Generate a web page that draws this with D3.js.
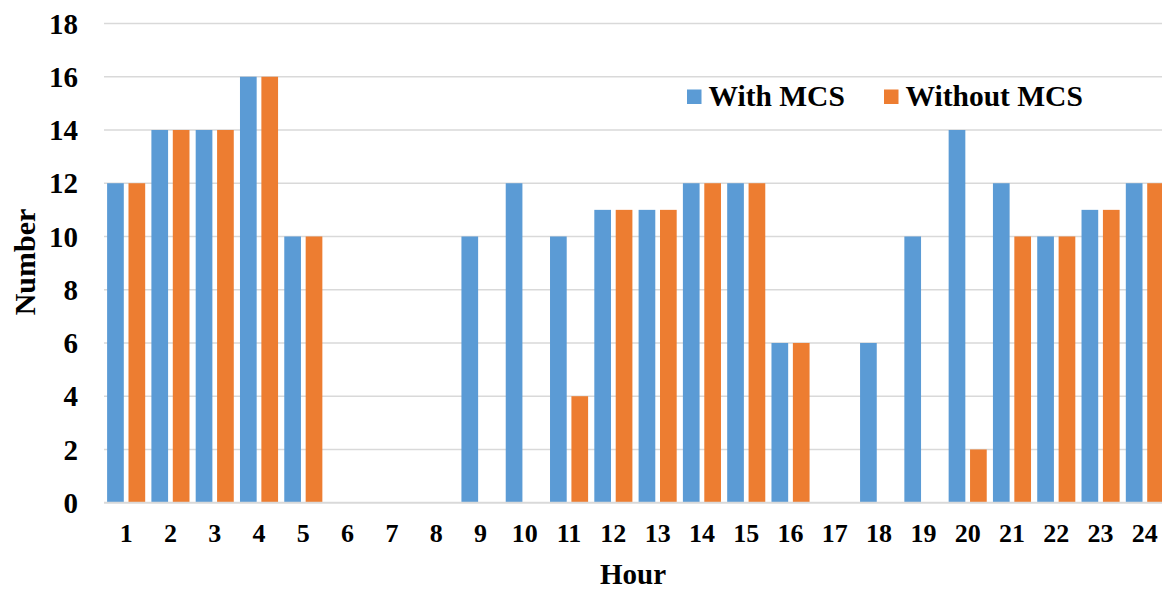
<!DOCTYPE html>
<html><head><meta charset="utf-8">
<script src="https://cdn.jsdelivr.net/npm/d3@7"></script>
<style>body{margin:0;background:#fff;} svg{display:block;} text{font-family:"Liberation Serif","Times New Roman",serif;font-weight:bold;fill:#000;}</style>
</head><body>
<svg id="chart" width="1162" height="590"></svg>
<script>
const hours = ["1","2","3","4","5","6","7","8","9","10","11","12","13","14","15","16","17","18","19","20","21","22","23","24"];
const withMCS = [12,14,14,16,10,0,0,0,10,12,10,11,11,12,12,6,0,6,10,14,12,10,11,12];
const withoutMCS = [12,14,14,16,10,0,0,0,0,0,4,11,11,12,12,6,0,0,0,2,10,10,11,12];
const seriesNames = ["With MCS","Without MCS"];
const yTicks = [0,2,4,6,8,10,12,14,16,18];
const colors = ["#5B9BD5","#ED7D31"];

const svg = d3.select("#chart");
const pLeft = 104, pRight = 1167, pTop = 23.5, pBottom = 502.7;
const x0 = d3.scaleBand().domain(hours).range([pLeft, pRight]);
const xs = d3.scaleBand().domain(seriesNames).range([0, x0.bandwidth()]).paddingInner(0.22).paddingOuter(0.145);
const y = d3.scaleLinear().domain([0,18]).range([pBottom, pTop]);

// gridlines
svg.append("g").selectAll("line").data(yTicks.filter(d=>d>0)).join("line")
  .attr("x1", pLeft).attr("x2", 1162).attr("y1", d=>y(d)).attr("y2", d=>y(d))
  .attr("stroke", "#d9d9d9").attr("stroke-width", 1.5);

const data = [withMCS, withoutMCS];
data.forEach((vals, si) => {
  svg.append("g").selectAll("rect").data(vals).join("rect")
    .attr("x", (d,i) => x0(hours[i]) + xs(seriesNames[si]))
    .attr("width", xs.bandwidth())
    .attr("y", d => y(d))
    .attr("height", d => y(0) - y(d))
    .attr("fill", colors[si]);
});

// baseline
svg.append("line").attr("x1", pLeft).attr("x2", 1162).attr("y1", y(0)).attr("y2", y(0))
  .attr("stroke", "#d9d9d9").attr("stroke-width", 2);

// y tick labels
svg.append("g").selectAll("text").data(yTicks).join("text")
  .attr("x", 78).attr("y", d => y(d)).attr("dy", "0.35em")
  .attr("text-anchor", "end").attr("font-size", 29).text(d => d);

// x tick labels
svg.append("g").selectAll("text").data(hours).join("text")
  .attr("x", d => x0(d) + x0.bandwidth()/2).attr("y", 533).attr("dy", "0.35em")
  .attr("text-anchor", "middle").attr("font-size", 26).text(d => d);

// axis titles
svg.append("text").attr("x", 633).attr("y", 574).attr("dy","0.35em").attr("text-anchor","middle")
  .attr("font-size", 29).text("Hour");
svg.append("text").attr("transform", "translate(24,262) rotate(-90)").attr("dy","0.35em")
  .attr("text-anchor","middle").attr("font-size", 30).text("Number");

// legend
const legendX = [687, 884];
seriesNames.forEach((n, i) => {
  svg.append("rect").attr("x", legendX[i]).attr("y", 89.5).attr("width", 14.5).attr("height", 14.5).attr("fill", colors[i]);
  svg.append("text").attr("x", legendX[i] + 21.5).attr("y", 95.5).attr("dy", "0.35em").attr("font-size", 29.5).text(n);
});
</script>
</body></html>
